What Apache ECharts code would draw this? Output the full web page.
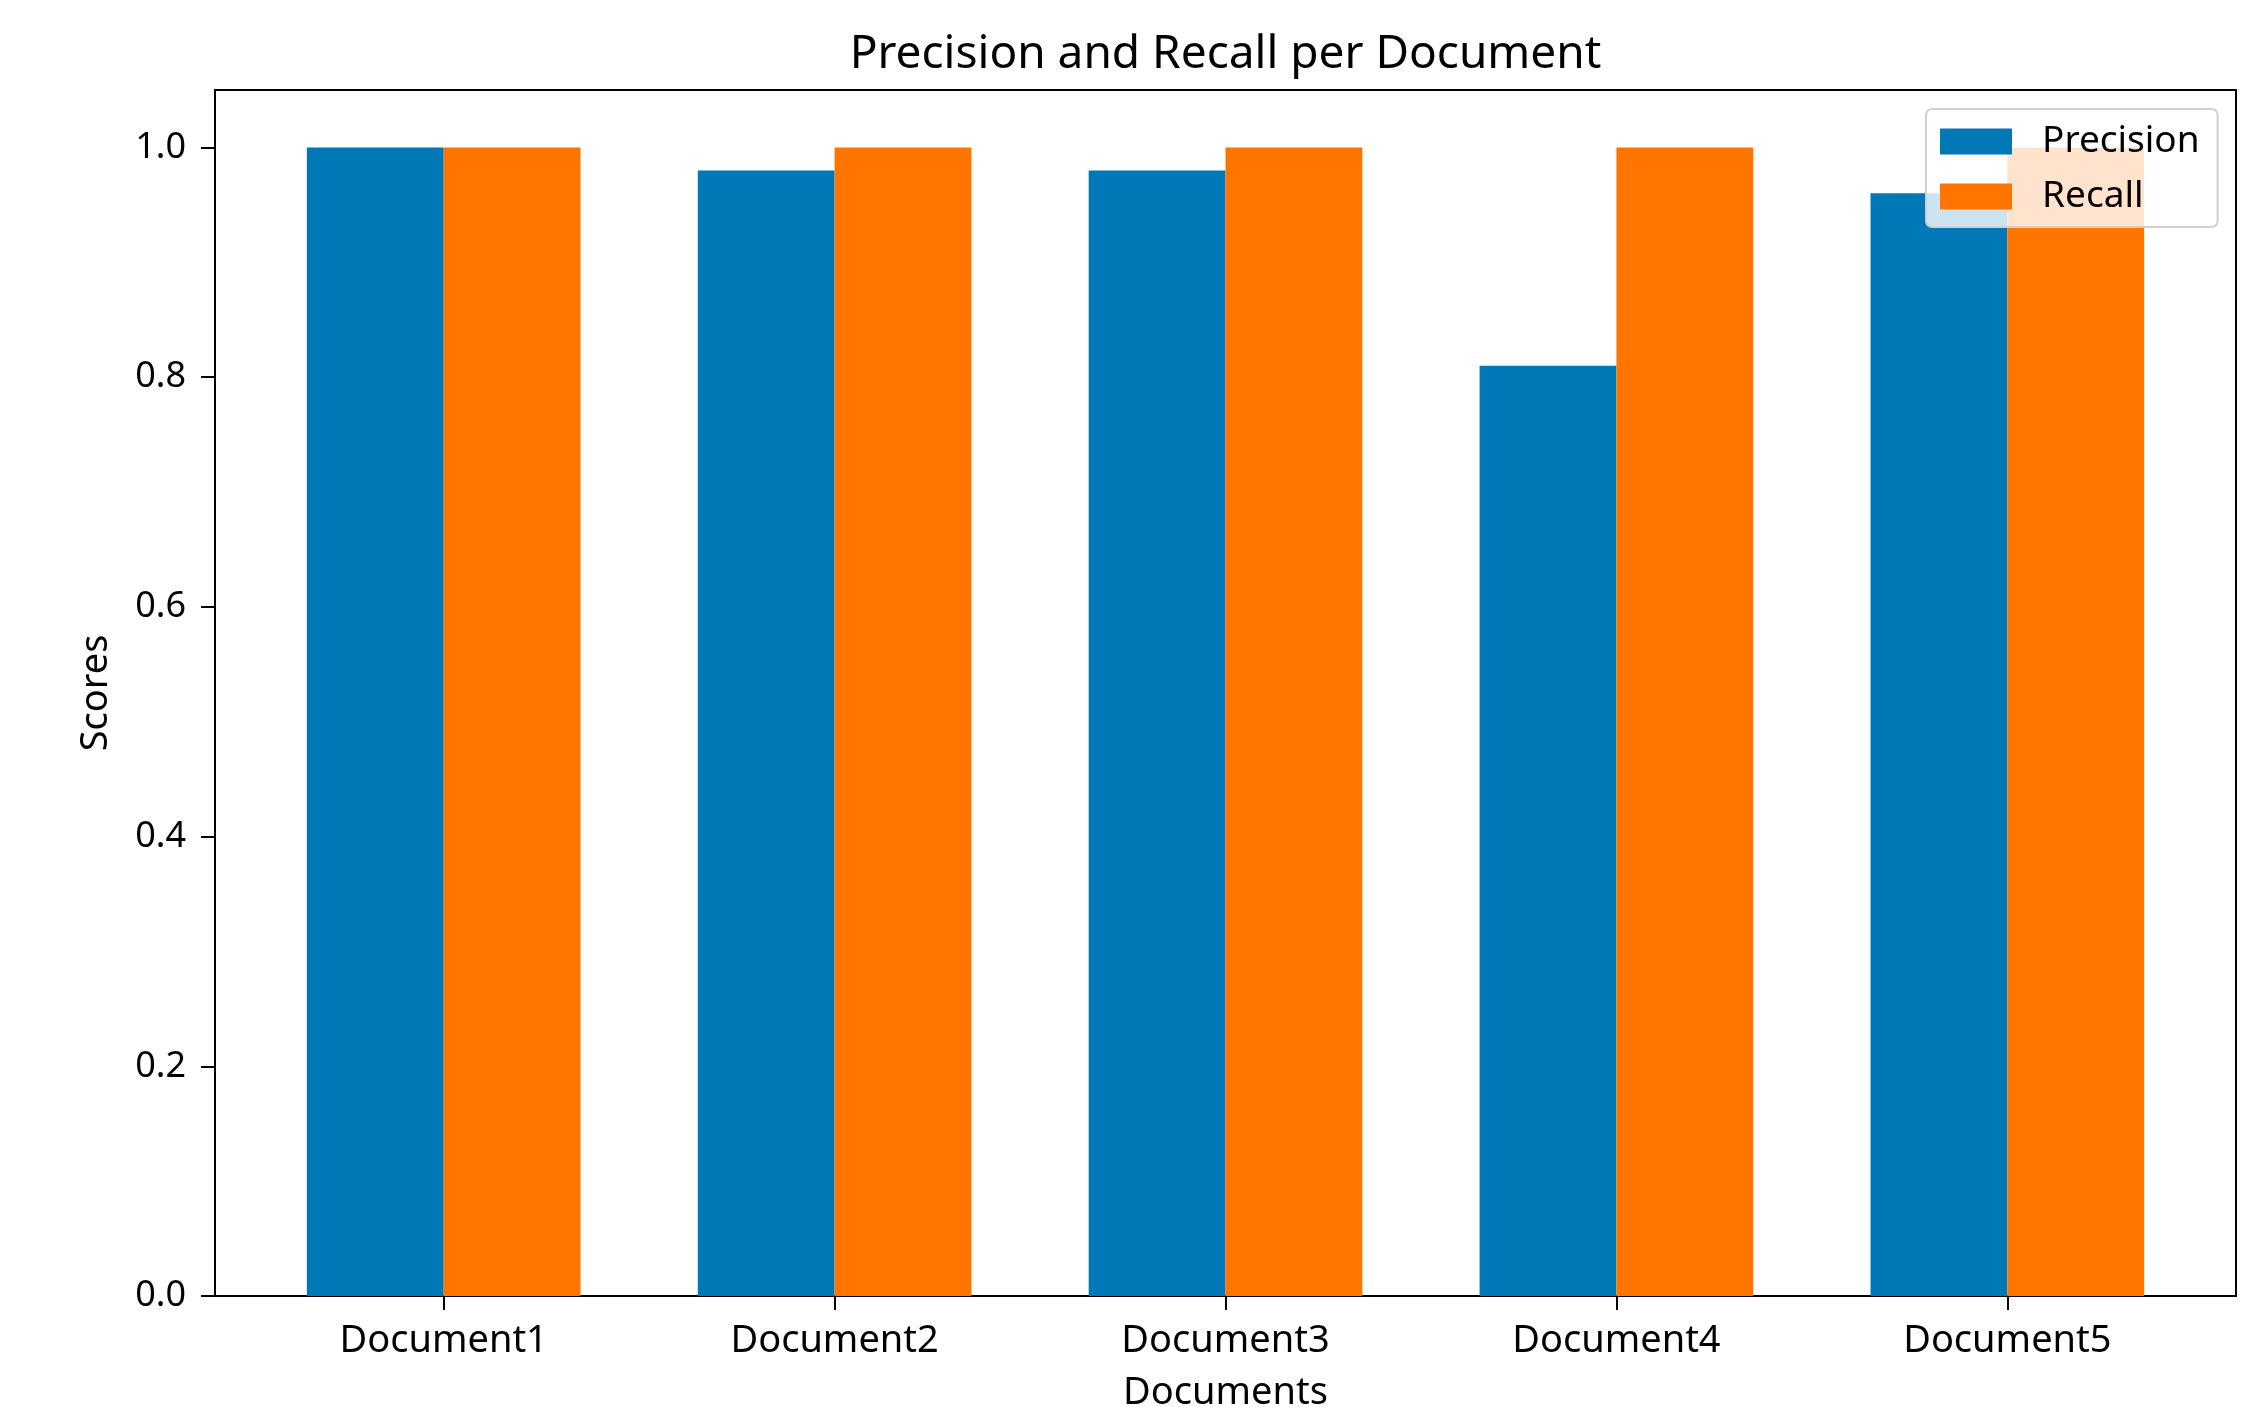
<!DOCTYPE html>
<html>
<head>
<meta charset="utf-8">
<title>Precision and Recall per Document</title>
<script src="https://cdn.jsdelivr.net/npm/echarts@6/dist/echarts.min.js"></script>
<style>
  html, body { margin: 0; padding: 0; background: #ffffff; }
  #chart { width: 2246px; height: 1407px; }
</style>
</head>
<body>
<div id="chart"></div>
<script>
// Documents on the x axis and their scores
const categories = ['Document1', 'Document2', 'Document3', 'Document4', 'Document5'];
const precision = [1.0, 0.98, 0.98, 0.81, 0.96];
const recall = [1.0, 1.0, 1.0, 1.0, 1.0];
const yTicks = [0, 0.2, 0.4, 0.6, 0.8, 1.0];
const xTicks = [0, 1, 2, 3, 4];

const FONT = 'Noto Sans';
const BLUE = '#0077b6';
const ORANGE = '#ff7500';

const chart = echarts.init(document.getElementById('chart'), null, { renderer: 'canvas' });

const grid = { left: 215, right: 10, top: 90, bottom: 111 };

chart.setOption({
  animation: false,
  backgroundColor: '#ffffff',
  textStyle: { fontFamily: FONT },
  graphic: [{
    type: 'text',
    x: (grid.left + (2246 - grid.right)) / 2,
    y: 55,
    style: {
      text: 'Precision and Recall per Document',
      font: '46px "' + FONT + '"',
      fill: '#000000',
      textAlign: 'center',
      textVerticalAlign: 'middle'
    }
  }],
  legend: {
    orient: 'vertical',
    left: 1926,
    top: 109,
    padding: [14, 18, 12, 14],
    itemWidth: 72,
    itemHeight: 26,
    itemGap: 18,
    icon: 'rect',
    backgroundColor: 'rgba(255,255,255,0.8)',
    borderColor: '#d0d0d0',
    borderWidth: 2,
    borderRadius: 6,
    textStyle: { fontFamily: FONT, fontSize: 37, color: '#000000', padding: [0, 0, 0, 25] },
    data: [
      { name: 'Precision', itemStyle: { color: BLUE } },
      { name: 'Recall', itemStyle: { color: ORANGE } }
    ]
  },
  grid: {
    left: grid.left, right: grid.right, top: grid.top, bottom: grid.bottom,
    outerBoundsMode: 'none',
    containLabel: false,
    show: true, borderColor: '#000000', borderWidth: 2, backgroundColor: 'transparent'
  },
  xAxis: {
    type: 'value',
    min: -0.585,
    max: 4.585,
    name: 'Documents',
    nameLocation: 'middle',
    nameGap: 78,
    nameTextStyle: { fontFamily: FONT, fontSize: 38, color: '#000000' },
    axisLine: { show: true, onZero: false, lineStyle: { color: '#000000', width: 2 } },
    axisTick: { show: true, length: 14, lineStyle: { color: '#000000', width: 2 }, customValues: xTicks },
    axisLabel: {
      show: true, margin: 26, fontFamily: FONT, fontSize: 38, color: '#000000',
      customValues: xTicks,
      formatter: v => categories[Math.round(v)]
    },
    splitLine: { show: false }
  },
  yAxis: {
    type: 'value',
    min: 0,
    max: 1.05,
    name: 'Scores',
    nameLocation: 'middle',
    nameGap: 100,
    nameTextStyle: { fontFamily: FONT, fontSize: 38, color: '#000000' },
    axisLine: { show: true, onZero: false, lineStyle: { color: '#000000', width: 2 } },
    axisTick: { show: true, length: 14, lineStyle: { color: '#000000', width: 2 }, customValues: yTicks },
    axisLabel: {
      show: true, margin: 29, fontFamily: FONT, fontSize: 36, color: '#000000',
      customValues: yTicks,
      formatter: v => v.toFixed(1)
    },
    splitLine: { show: false }
  },
  series: [
    {
      name: 'Precision',
      type: 'bar',
      barWidth: '35%',
      barGap: '0%',
      itemStyle: { color: BLUE },
      data: precision.map((v, i) => [i, v])
    },
    {
      name: 'Recall',
      type: 'bar',
      barWidth: '35%',
      barGap: '0%',
      itemStyle: { color: ORANGE },
      data: recall.map((v, i) => [i, v])
    }
  ]
});
</script>
</body>
</html>
